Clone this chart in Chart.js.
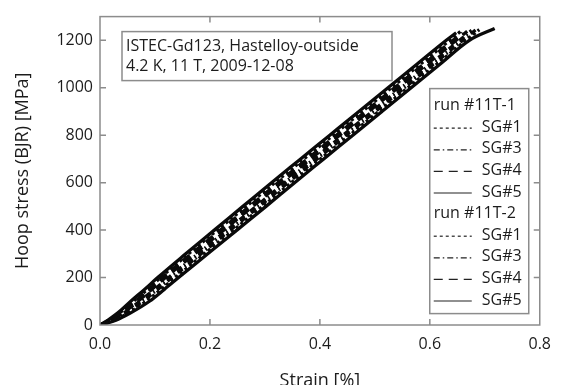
<!DOCTYPE html>
<html>
<head>
<meta charset="utf-8">
<script src="https://cdn.jsdelivr.net/npm/chart.js@4"></script>
<style>
  html, body { margin: 0; padding: 0; background: #fff; overflow: hidden; }
  canvas { display: block; }
</style>
</head>
<body>
<canvas id="chart" width="561" height="392"></canvas>
<script>
// Hoop stress levels [MPa] shared by every strain-gauge trace
const stressLevels = [0, 20, 50, 100, 150, 200, 300, 400, 500, 600, 700, 800, 900, 1000, 1100, 1200];

// Strain [%] read by each gauge at the stress levels above — run #11T-1
const run1StrainSG1 = [0, 0.026, 0.051, 0.084, 0.111, 0.137, 0.190, 0.243, 0.296, 0.348, 0.401, 0.454, 0.507, 0.560, 0.613, 0.666];
const run1StrainSG3 = [0, 0.022, 0.043, 0.072, 0.099, 0.125, 0.178, 0.231, 0.284, 0.336, 0.389, 0.442, 0.495, 0.548, 0.601, 0.654];
const run1StrainSG4 = [0, 0.019, 0.038, 0.064, 0.089, 0.113, 0.166, 0.219, 0.272, 0.324, 0.377, 0.430, 0.483, 0.536, 0.589, 0.642];
const run1StrainSG5 = [0, 0.014, 0.032, 0.056, 0.081, 0.105, 0.156, 0.208, 0.260, 0.312, 0.365, 0.418, 0.471, 0.524, 0.577, 0.630];

// Strain [%] — run #11T-2
const run2StrainSG1 = [0, 0.016, 0.035, 0.061, 0.086, 0.110, 0.161, 0.213, 0.266, 0.318, 0.371, 0.424, 0.477, 0.530, 0.583, 0.636];
const run2StrainSG3 = [0, 0.024, 0.047, 0.078, 0.105, 0.131, 0.184, 0.237, 0.290, 0.342, 0.395, 0.448, 0.501, 0.554, 0.607, 0.660];
const run2StrainSG4 = [0, 0.020, 0.041, 0.069, 0.094, 0.119, 0.172, 0.225, 0.278, 0.330, 0.383, 0.436, 0.489, 0.542, 0.595, 0.648];
const run2StrainSG5 = [0, 0.029, 0.055, 0.090, 0.117, 0.143, 0.196, 0.249, 0.302, 0.354, 0.407, 0.460, 0.513, 0.566, 0.619, 0.672];

// Peak point of each trace (SG#1, SG#3, SG#4, SG#5)
const run1PeakStrain = [0.690, 0.676, 0.660, 0.648];
const run1PeakStress = [1245, 1242, 1230, 1232];
const run2PeakStrain = [0.656, 0.684, 0.668, 0.718];
const run2PeakStress = [1238, 1245, 1238, 1250];

const gaugeNames = ['SG#1', 'SG#3', 'SG#4', 'SG#5'];
const runNames = ['run #11T-1', 'run #11T-2'];
const xTicks = [0, 0.2, 0.4, 0.6, 0.8];
const yTicks = [0, 200, 400, 600, 800, 1000, 1200];
const infoLines = ['ISTEC-Gd123, Hastelloy-outside', '4.2 K, 11 T, 2009-12-08'];

// line style per gauge
const gaugeDash = [[3, 3], [6, 3, 1.5, 3], [9, 6], []];

const FONT = 'Open Sans';
const TEXT = '#1c1c1c';
const FRAME = '#8c8c8c';

function trace(strain, peakX, peakY) {
  const pts = stressLevels.map((s, i) => ({ x: strain[i], y: s }));
  pts.push({ x: peakX, y: peakY });
  return pts;
}

const runStrains = [
  [run1StrainSG1, run1StrainSG3, run1StrainSG4, run1StrainSG5],
  [run2StrainSG1, run2StrainSG3, run2StrainSG4, run2StrainSG5]
];
const runPeakX = [run1PeakStrain, run2PeakStrain];
const runPeakY = [run1PeakStress, run2PeakStress];

const datasets = [];
runStrains.forEach((gauges, r) => {
  gauges.forEach((strain, g) => {
    datasets.push({
      label: runNames[r] + ' ' + gaugeNames[g],
      data: trace(strain, runPeakX[r][g], runPeakY[r][g]),
      borderColor: '#0a0a0a',
      borderWidth: 3.3,
      borderDash: gaugeDash[g],
      showLine: true,
      fill: false,
      pointRadius: 0,
      cubicInterpolationMode: 'monotone'
    });
  });
});

// frame, inward tick marks, info box and grouped legend
const decorations = {
  id: 'decorations',
  afterDatasetsDraw(chart) {
    const ctx = chart.ctx;
    const ca = chart.chartArea;
    const xs = chart.scales.x, ys = chart.scales.y;
    ctx.save();

    // plot frame
    ctx.strokeStyle = FRAME;
    ctx.lineWidth = 1.5;
    ctx.strokeRect(ca.left, ca.top, ca.right - ca.left, ca.bottom - ca.top);

    // inward ticks on all four sides
    ctx.beginPath();
    xTicks.slice(1, -1).forEach(v => {
      const px = xs.getPixelForValue(v);
      ctx.moveTo(px, ca.bottom); ctx.lineTo(px, ca.bottom - 6);
      ctx.moveTo(px, ca.top); ctx.lineTo(px, ca.top + 6);
    });
    yTicks.slice(1).forEach(v => {
      const py = ys.getPixelForValue(v);
      ctx.moveTo(ca.left, py); ctx.lineTo(ca.left + 6, py);
      ctx.moveTo(ca.right, py); ctx.lineTo(ca.right - 6, py);
    });
    ctx.stroke();

    // info box
    const bx = ca.left + 22, by = ca.top + 15, bw = 270, bh = 49;
    ctx.fillStyle = '#fff';
    ctx.fillRect(bx, by, bw, bh);
    ctx.strokeStyle = FRAME;
    ctx.lineWidth = 1.5;
    ctx.strokeRect(bx, by, bw, bh);
    ctx.fillStyle = TEXT;
    ctx.font = '16px "' + FONT + '"';
    ctx.textBaseline = 'middle';
    ctx.textAlign = 'left';
    infoLines.forEach((t, i) => ctx.fillText(t, bx + 4, by + 15 + i * 20));

    // grouped legend
    const lx = ca.right - 110, ly = ca.top + 72, lw = 99, lh = 225;
    ctx.fillStyle = '#fff';
    ctx.fillRect(lx, ly, lw, lh);
    ctx.strokeRect(lx, ly, lw, lh);
    let row = 0;
    const rowY = () => ly + 17 + row * 21.6;
    runNames.forEach((rn) => {
      ctx.fillStyle = TEXT;
      ctx.fillText(rn, lx + 4, rowY());
      row++;
      gaugeNames.forEach((gn, g) => {
        const yy = rowY();
        ctx.save();
        ctx.strokeStyle = '#222';
        ctx.lineWidth = 1.2;
        ctx.setLineDash(gaugeDash[g]);
        ctx.beginPath();
        ctx.moveTo(lx + 4, yy + 1);
        ctx.lineTo(lx + 42, yy + 1);
        ctx.stroke();
        ctx.restore();
        ctx.fillStyle = TEXT;
        ctx.fillText(gn, lx + 52, yy);
        row++;
      });
    });
    ctx.restore();
  }
};

new Chart(document.getElementById('chart'), {
  type: 'scatter',
  data: { datasets },
  options: {
    responsive: false,
    animation: false,
    devicePixelRatio: 1,
    layout: { padding: { left: 8, right: 18, top: 13, bottom: 0 } },
    plugins: { legend: { display: false }, tooltip: { enabled: false } },
    scales: {
      x: {
        type: 'linear',
        min: 0, max: 0.8,
        afterBuildTicks: s => { s.ticks = xTicks.map(v => ({ value: v })); },
        afterFit: s => { s.height = 67; },
        ticks: {
          padding: 10,
          color: TEXT,
          font: { family: FONT, size: 16 },
          callback: v => Number(v).toFixed(1)
        },
        grid: { drawOnChartArea: false, drawTicks: false },
        border: { display: false },
        title: {
          display: true, text: 'Strain [%]', color: TEXT,
          font: { family: FONT, size: 18 },
          padding: { top: 0, bottom: 0 }
        }
      },
      y: {
        type: 'linear',
        min: 0, max: 1300,
        afterBuildTicks: s => { s.ticks = yTicks.map(v => ({ value: v })); },
        afterFit: s => { s.width = 92; },
        ticks: {
          padding: 7,
          color: TEXT,
          font: { family: FONT, size: 16 },
          callback: v => String(v)
        },
        grid: { drawOnChartArea: false, drawTicks: false },
        border: { display: false },
        title: {
          display: true, text: 'Hoop stress (BJR) [MPa]', color: TEXT,
          font: { family: FONT, size: 18 },
          padding: { top: 4, bottom: 4 }
        }
      }
    }
  },
  plugins: [decorations]
});
</script>
</body>
</html>
